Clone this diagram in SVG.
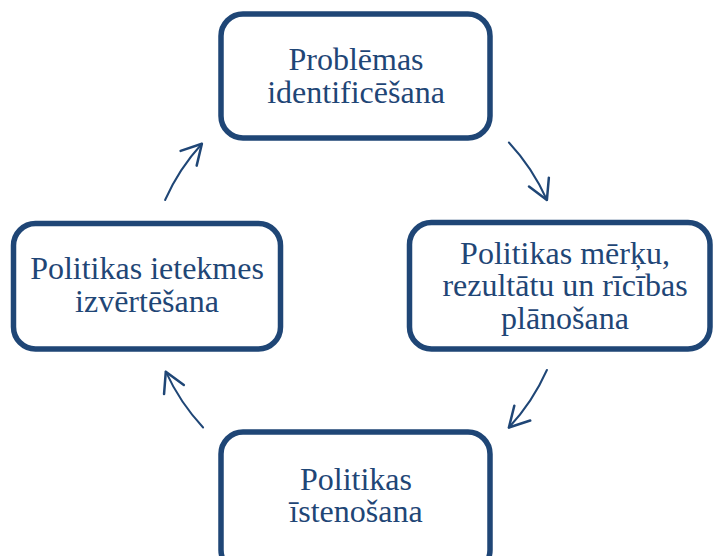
<svg xmlns="http://www.w3.org/2000/svg" width="713" height="556" viewBox="0 0 713 556">
<style>
.box{fill:#ffffff;stroke:#1f4676;stroke-width:5.5}
.lbl{font-family:"Liberation Serif","Times New Roman",serif;font-size:32px;fill:#1f4676;text-anchor:middle}
.arc{fill:none;stroke:#1f4676;stroke-width:2;stroke-linecap:round}
</style>
<defs>
<marker id="ah" markerUnits="userSpaceOnUse" orient="auto" refX="0" refY="0" markerWidth="30" markerHeight="30" viewBox="-20 -12 24 24" overflow="visible">
<path d="M -15.7 -8.7 L 0 0 L -15.7 8.7" fill="none" stroke="#1f4676" stroke-width="2" stroke-linecap="round" stroke-linejoin="round"/>
</marker>
</defs>
<rect width="713" height="556" fill="#ffffff"/>
<g id="connectors">
<path class="arc" d="M 508.9 142.5 A 209 209 0 0 1 546.9 200.0" marker-end="url(#ah)"/>
<path class="arc" d="M 546.9 370.0 A 209 209 0 0 1 508.9 427.5" marker-end="url(#ah)"/>
<path class="arc" d="M 203.1 427.5 A 209 209 0 0 1 165.8 371.7" marker-end="url(#ah)"/>
<path class="arc" d="M 165.1 200.0 A 209 209 0 0 1 201.9 143.8" marker-end="url(#ah)"/>
</g>
<g id="node-problemas">
<rect class="box" x="221" y="14" width="269" height="124" rx="22" ry="22"/>
<text class="lbl" x="356" y="70">Problēmas</text>
<text class="lbl" x="356" y="102.5">identificēšana</text>
</g>
<g id="node-planosana">
<rect class="box" x="409.5" y="222.5" width="300.5" height="126.5" rx="22" ry="22"/>
<text class="lbl" x="565" y="263.5">Politikas mērķu,</text>
<text class="lbl" x="565" y="296">rezultātu un rīcības</text>
<text class="lbl" x="565" y="328.5">plānošana</text>
</g>
<g id="node-istenosana">
<rect class="box" x="221" y="432" width="269" height="140" rx="22" ry="22"/>
<text class="lbl" x="356" y="489.5">Politikas</text>
<text class="lbl" x="356" y="522">īstenošana</text>
</g>
<g id="node-izvertesana">
<rect class="box" x="13.5" y="223.5" width="267" height="125.5" rx="22" ry="22"/>
<text class="lbl" x="147" y="279">Politikas ietekmes</text>
<text class="lbl" x="147" y="311.5">izvērtēšana</text>
</g>
</svg>
